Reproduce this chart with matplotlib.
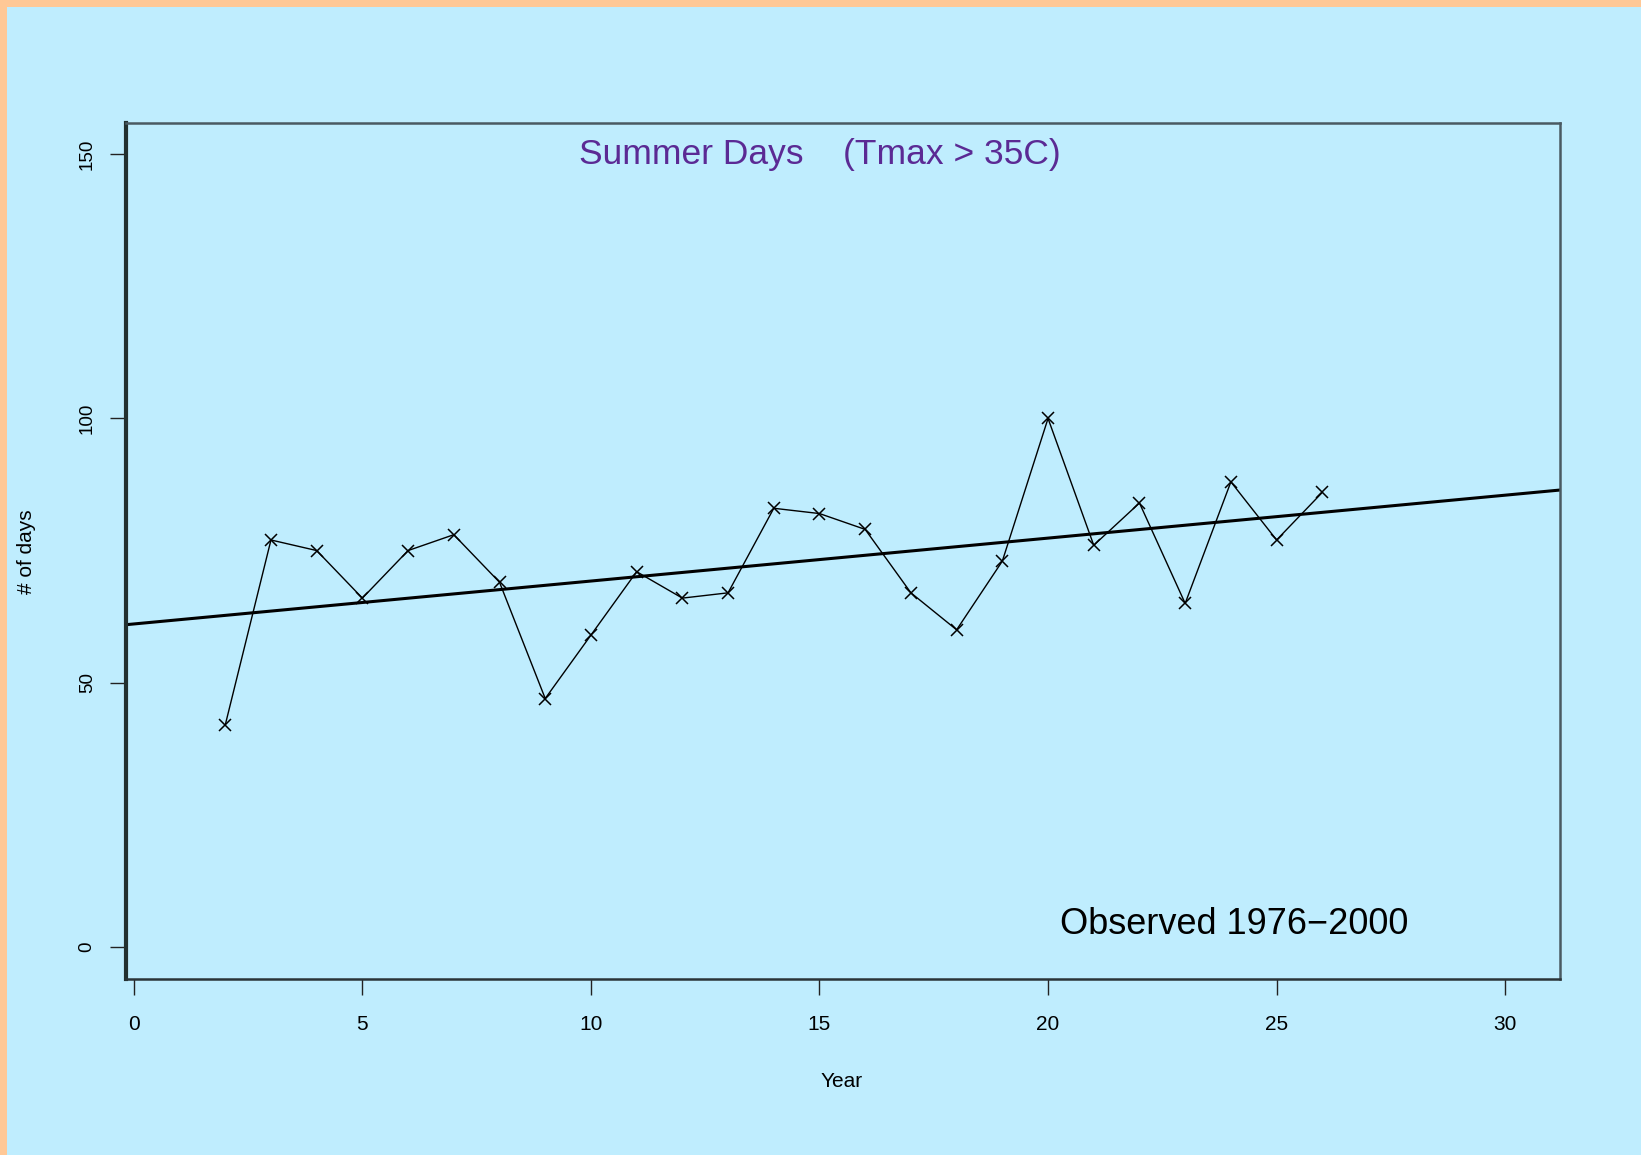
import numpy as np
import matplotlib
matplotlib.use("Agg")
import matplotlib.pyplot as plt
from matplotlib.patches import Rectangle

# ---- data ----
years = [2, 3, 4, 5, 6, 7, 8, 9, 10, 11, 12, 13, 14, 15, 16, 17, 18, 19, 20, 21, 22, 23, 24, 25, 26]
days = [42, 77, 75, 66, 75, 78, 69, 47, 59, 71, 66, 67, 83, 82, 79, 67, 60, 73, 100, 76, 84, 65, 88, 77, 86]
xticks = [0, 5, 10, 15, 20, 25, 30]
yticks = [0, 50, 100, 150]
title_text = "Summer Days    (Tmax > 35C)"
note_text = "Observed 1976\u22122000"

BLUE = "#BFEDFE"
ORANGE = "#FFC896"
PURPLE = "#5B2A94"

plt.rcParams['font.family'] = ['Liberation Sans', 'DejaVu Sans']

W, H = 1641, 1155
fig = plt.figure(figsize=(W / 100, H / 100), dpi=100, facecolor=BLUE)

# orange border strips (top and left)
fig.patches.append(Rectangle((0, 1 - 7 / H), 1, 7 / H, transform=fig.transFigure,
                             facecolor=ORANGE, edgecolor='none', zorder=0))
fig.patches.append(Rectangle((0, 0), 7 / W, 1, transform=fig.transFigure,
                             facecolor=ORANGE, edgecolor='none', zorder=0))

left, right, top, bottom = 125.6, 1560, 122.5, 978.6
ax = fig.add_axes([left / W, 1 - bottom / H, (right - left) / W, (bottom - top) / H])
ax.set_facecolor(BLUE)

ax.plot(years, days, color='black', lw=1.0, marker='x', ms=9, mew=1.1, zorder=3)

# least-squares trend line
slope, intercept = np.polyfit(years, days, 1)
ax.axline((0, intercept), slope=slope, color='black', lw=2.2, zorder=2)

ax.set_xlim(-0.18, 31.2)
ax.set_ylim(-6, 156)
ax.set_xticks(xticks)
ax.set_yticks(yticks)
ax.set_xticklabels([str(t) for t in xticks])
ax.set_yticklabels([str(t) for t in yticks], rotation=90, va='center')

ax.tick_params(axis='x', length=11.5, width=1.0, color='#222222', pad=14.5, labelsize=15)
ax.tick_params(axis='y', length=11.5, width=1.0, color='#222222', pad=10, labelsize=13.5)

for side, sp in ax.spines.items():
    sp.set_color('#4a5a62')
    sp.set_linewidth(1.8)
ax.spines['left'].set_color('#22302f')
ax.spines['left'].set_linewidth(3.0)
ax.spines['bottom'].set_color('#2a3438')

fig.text(820 / W, 1 - 164 / H, title_text, color=PURPLE, fontsize=25.5,
         ha='center', va='baseline')
fig.text(1060 / W, 1 - 934 / H, note_text, color='black', fontsize=26,
         ha='left', va='baseline')
fig.text(842 / W, 1 - 1087 / H, "Year", color='black', fontsize=15,
         ha='center', va='baseline')
fig.text(27 / W, 1 - 551.5 / H, "# of days", color='black', fontsize=15,
         ha='center', va='center', rotation=90)

fig.savefig("out.png", dpi=100, facecolor=BLUE)
